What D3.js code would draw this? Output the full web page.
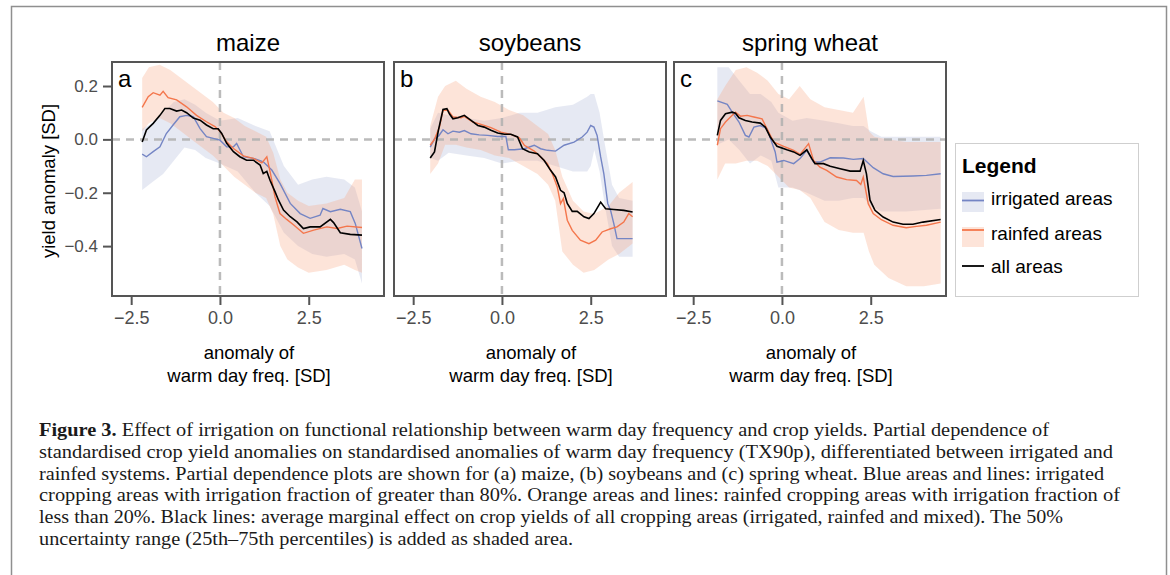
<html>
  <head>
    <meta charset="utf-8"/>
    <style>
      body { margin: 0; background: white; }
      text { font-family: "Liberation Sans", Arial, sans-serif; }
      .caption { font-family: "Liberation Serif", "Times New Roman", serif; font-size: 18px; fill: #1a1a1a; }
    </style>
    <script src="https://d3js.org/d3.v7.min.js"></script>
  </head>
  <body>
    <script>
    // ---- data ----
    var crops = ["maize", "soybeans", "spring wheat"];
    var panelLetters = ["a", "b", "c"];
    var xTicks = [-2.5, 0, 2.5];
    var yTicks = [-0.4, -0.2, 0, 0.2];

    // maize: [x, y]
    var maizeAll = [[-2.19,-0.01],[-2.07,0.035],[-1.88,0.06],[-1.69,0.09],[-1.55,0.116],[-1.41,0.116],[-1.22,0.106],[-1.08,0.11],[-0.94,0.1],[-0.75,0.08],[-0.56,0.072],[-0.38,0.054],[-0.19,0.04],[-0.05,0.04],[0.05,0.022],[0.19,-0.015],[0.38,-0.046],[0.56,-0.065],[0.75,-0.078],[0.94,-0.078],[1.13,-0.096],[1.22,-0.128],[1.32,-0.12],[1.41,-0.153],[1.55,-0.196],[1.65,-0.228],[1.79,-0.265],[1.98,-0.29],[2.17,-0.309],[2.35,-0.334],[2.54,-0.328],[2.82,-0.328],[3.11,-0.3],[3.2,-0.312],[3.39,-0.35],[3.67,-0.356],[4.0,-0.359]];
    var maizeRain = [[-2.19,0.12],[-2.02,0.16],[-1.88,0.175],[-1.69,0.166],[-1.6,0.18],[-1.46,0.156],[-1.22,0.148],[-0.94,0.122],[-0.66,0.09],[-0.38,0.066],[-0.14,0.048],[0,0.03],[0.19,-0.009],[0.38,-0.034],[0.66,-0.062],[0.94,-0.071],[1.18,-0.088],[1.32,-0.065],[1.41,-0.12],[1.55,-0.215],[1.69,-0.278],[1.88,-0.3],[2.07,-0.32],[2.35,-0.352],[2.64,-0.34],[3.01,-0.328],[3.3,-0.334],[3.58,-0.325],[4.0,-0.33]];
    var maizeIrr = [[-2.19,-0.055],[-2.07,-0.065],[-1.88,-0.046],[-1.69,-0.028],[-1.51,0.022],[-1.32,0.054],[-1.13,0.085],[-0.94,0.09],[-0.75,0.085],[-0.56,0.04],[-0.38,0.01],[-0.19,0.004],[0,-0.003],[0.19,-0.028],[0.38,-0.028],[0.47,-0.015],[0.66,-0.065],[0.94,-0.071],[1.22,-0.084],[1.46,-0.115],[1.69,-0.165],[1.98,-0.24],[2.26,-0.278],[2.54,-0.296],[2.82,-0.284],[2.9,-0.259],[3.11,-0.271],[3.39,-0.262],[3.67,-0.271],[3.81,-0.315],[4.0,-0.409]];
    // bands: [x, lower, upper]
    var maizeRainBand = [[-2.19,0.03,0.23],[-2.0,0.06,0.27],[-1.7,0.08,0.28],[-1.4,0.06,0.26],[-1.1,0.03,0.23],[-0.8,0.0,0.2],[-0.5,-0.03,0.17],[-0.2,-0.06,0.14],[0.1,-0.1,0.1],[0.4,-0.14,0.08],[0.7,-0.17,0.05],[1.0,-0.2,0.03],[1.3,-0.22,0.01],[1.5,-0.28,-0.05],[1.7,-0.4,-0.15],[1.9,-0.45,-0.2],[2.2,-0.48,-0.23],[2.5,-0.5,-0.25],[3.0,-0.49,-0.24],[3.5,-0.47,-0.22],[3.8,-0.49,-0.15],[4.0,-0.5,-0.15]];
    var maizeIrrBand = [[-2.19,-0.19,0.04],[-1.9,-0.16,0.06],[-1.6,-0.13,0.1],[-1.3,-0.08,0.14],[-1.0,-0.03,0.15],[-0.7,-0.04,0.13],[-0.4,-0.07,0.1],[0.0,-0.09,0.07],[0.5,-0.12,0.08],[1.0,-0.2,0.05],[1.4,-0.25,0.03],[1.8,-0.35,-0.1],[2.2,-0.4,-0.17],[2.6,-0.43,-0.15],[3.0,-0.44,-0.14],[3.5,-0.43,-0.15],[3.8,-0.45,-0.18],[4.0,-0.54,-0.27]];

    // soybeans
    var soyAll = [[-2.02,-0.07],[-1.9,-0.047],[-1.79,0.034],[-1.66,0.112],[-1.55,0.115],[-1.48,0.096],[-1.38,0.077],[-1.24,0.081],[-1.06,0.09],[-0.87,0.071],[-0.68,0.052],[-0.5,0.046],[-0.31,0.034],[-0.12,0.024],[0.07,0.019],[0.25,0.019],[0.44,0.009],[0.58,-0.035],[0.77,-0.047],[1.0,-0.054],[1.19,-0.079],[1.37,-0.116],[1.51,-0.141],[1.65,-0.191],[1.75,-0.2],[1.84,-0.24],[1.98,-0.27],[2.12,-0.27],[2.31,-0.29],[2.45,-0.297],[2.59,-0.278],[2.78,-0.235],[2.92,-0.26],[3.15,-0.263],[3.43,-0.266],[3.68,-0.272]];
    var soyRain = [[-2.02,-0.022],[-1.9,0.0],[-1.76,0.046],[-1.66,0.109],[-1.52,0.109],[-1.38,0.084],[-1.15,0.081],[-1.06,0.086],[-0.82,0.065],[-0.59,0.056],[-0.31,0.044],[-0.03,0.027],[0.25,0.019],[0.49,0.006],[0.63,-0.022],[0.91,-0.044],[1.09,-0.066],[1.28,-0.091],[1.42,-0.129],[1.56,-0.179],[1.65,-0.241],[1.73,-0.222],[1.84,-0.303],[1.98,-0.341],[2.21,-0.378],[2.45,-0.391],[2.64,-0.378],[2.82,-0.347],[3.06,-0.335],[3.24,-0.328],[3.43,-0.31],[3.57,-0.278],[3.68,-0.29]];
    var soyIrr = [[-2.02,-0.029],[-1.9,0.002],[-1.79,0.011],[-1.66,0.036],[-1.52,0.021],[-1.38,0.031],[-1.2,0.027],[-1.06,0.033],[-0.87,0.021],[-0.64,0.017],[-0.4,0.015],[-0.12,0.011],[0.11,0.011],[0.18,-0.039],[0.35,-0.039],[0.63,-0.035],[0.91,-0.022],[1.09,-0.035],[1.28,-0.041],[1.51,-0.044],[1.75,-0.022],[2.03,-0.01],[2.26,0.009],[2.4,0.027],[2.5,0.052],[2.59,0.046],[2.68,0.015],[2.78,-0.066],[2.87,-0.129],[2.98,-0.241],[3.06,-0.266],[3.15,-0.316],[3.24,-0.372],[3.68,-0.372]];
    var soyRainBand = [[-2.02,-0.13,0.05],[-1.8,-0.09,0.16],[-1.6,-0.02,0.2],[-1.3,-0.02,0.22],[-1.0,-0.03,0.19],[-0.6,-0.04,0.16],[-0.2,-0.06,0.14],[0.2,-0.07,0.11],[0.6,-0.1,0.09],[1.0,-0.13,0.05],[1.3,-0.17,0.02],[1.5,-0.23,-0.04],[1.7,-0.42,-0.14],[2.0,-0.47,-0.23],[2.3,-0.5,-0.27],[2.6,-0.49,-0.28],[3.0,-0.45,-0.25],[3.3,-0.43,-0.2],[3.68,-0.39,-0.16]];
    var soyIrrBand = [[-2.02,-0.07,0.04],[-1.8,-0.08,0.1],[-1.5,-0.05,0.09],[-1.0,-0.06,0.08],[-0.5,-0.07,0.07],[0.0,-0.09,0.08],[0.5,-0.08,0.1],[1.0,-0.08,0.1],[1.5,-0.1,0.12],[2.0,-0.12,0.13],[2.4,-0.12,0.16],[2.5,-0.1,0.17],[2.6,-0.04,0.17],[2.75,-0.12,0.1],[2.9,-0.25,-0.02],[3.1,-0.4,-0.17],[3.3,-0.44,-0.22],[3.68,-0.44,-0.23]];

    // spring wheat
    var wheatAll = [[-1.82,0.015],[-1.73,0.071],[-1.59,0.096],[-1.4,0.102],[-1.31,0.098],[-1.21,0.081],[-1.03,0.071],[-0.84,0.065],[-0.61,0.061],[-0.47,0.046],[-0.33,0.009],[-0.14,-0.026],[0.14,-0.039],[0.33,-0.047],[0.51,-0.06],[0.7,-0.039],[0.84,-0.072],[0.93,-0.091],[1.17,-0.091],[1.36,-0.101],[1.64,-0.11],[1.92,-0.119],[2.2,-0.119],[2.29,-0.079],[2.38,-0.129],[2.48,-0.228],[2.62,-0.266],[2.85,-0.291],[3.13,-0.31],[3.41,-0.318],[3.69,-0.318],[3.97,-0.31],[4.47,-0.3]];
    var wheatRain = [[-1.82,-0.022],[-1.73,0.04],[-1.59,0.065],[-1.45,0.084],[-1.31,0.102],[-1.17,0.087],[-0.98,0.09],[-0.79,0.084],[-0.56,0.077],[-0.42,0.04],[-0.23,-0.01],[0.05,-0.026],[0.33,-0.041],[0.51,-0.056],[0.75,-0.016],[0.89,-0.079],[1.07,-0.104],[1.26,-0.116],[1.54,-0.141],[1.82,-0.151],[2.1,-0.154],[2.22,-0.169],[2.29,-0.141],[2.43,-0.241],[2.57,-0.278],[2.8,-0.301],[3.13,-0.322],[3.5,-0.331],[3.79,-0.326],[4.07,-0.322],[4.47,-0.31]];
    var wheatIrr = [[-1.82,0.144],[-1.54,0.131],[-1.4,0.102],[-1.21,0.065],[-1.03,0.015],[-0.93,0.009],[-0.79,0.046],[-0.61,0.052],[-0.42,0.04],[-0.19,-0.047],[-0.14,-0.085],[0.05,-0.079],[0.33,-0.091],[0.51,-0.072],[0.7,-0.041],[0.89,-0.085],[1.07,-0.085],[1.36,-0.069],[1.73,-0.07],[2.01,-0.075],[2.29,-0.072],[2.57,-0.106],[2.85,-0.129],[3.13,-0.139],[3.69,-0.137],[4.07,-0.135],[4.47,-0.129]];
    var wheatRainBand = [[-1.82,-0.15,0.15],[-1.6,-0.09,0.2],[-1.3,-0.09,0.26],[-1.0,-0.08,0.27],[-0.7,-0.08,0.25],[-0.4,-0.1,0.22],[-0.1,-0.14,0.17],[0.2,-0.18,0.15],[0.5,-0.19,0.2],[0.8,-0.22,0.15],[1.2,-0.31,0.12],[1.6,-0.34,0.11],[2.0,-0.35,0.1],[2.3,-0.35,0.16],[2.45,-0.42,0.03],[2.6,-0.47,0.01],[3.0,-0.52,0.0],[3.5,-0.55,-0.01],[4.0,-0.55,-0.01],[4.47,-0.54,-0.01]];
    var wheatIrrBand = [[-1.82,-0.02,0.27],[-1.5,0.0,0.27],[-1.2,-0.04,0.22],[-0.9,-0.09,0.17],[-0.6,-0.06,0.17],[-0.3,-0.08,0.14],[-0.1,-0.18,0.1],[0.3,-0.18,0.07],[0.7,-0.2,0.08],[1.2,-0.23,0.07],[1.6,-0.23,0.06],[2.0,-0.22,0.05],[2.3,-0.22,0.05],[2.5,-0.25,0.03],[2.8,-0.27,0.01],[3.5,-0.27,0.01],[4.47,-0.26,0.01]];

    var panels = [
      {all: maizeAll, rain: maizeRain, irr: maizeIrr, rainBand: maizeRainBand, irrBand: maizeIrrBand},
      {all: soyAll, rain: soyRain, irr: soyIrr, rainBand: soyRainBand, irrBand: soyIrrBand},
      {all: wheatAll, rain: wheatRain, irr: wheatIrr, rainBand: wheatRainBand, irrBand: wheatIrrBand}
    ];

    var legendItems = ["irrigated areas", "rainfed areas", "all areas"];

    var captionLines = [
      "Effect of irrigation on functional relationship between warm day frequency and crop yields. Partial dependence of",
      "standardised crop yield anomalies on standardised anomalies of warm day frequency (TX90p), differentiated between irrigated and",
      "rainfed systems. Partial dependence plots are shown for (a) maize, (b) soybeans and (c) spring wheat. Blue areas and lines: irrigated",
      "cropping areas with irrigation fraction of greater than 80%. Orange areas and lines: rainfed cropping areas with irrigation fraction of",
      "less than 20%. Black lines: average marginal effect on crop yields of all cropping areas (irrigated, rainfed and mixed). The 50%",
      "uncertainty range (25th\u201375th percentiles) is added as shaded area."
    ];
    var captionEnds = [1049, 1113, 1104, 1120, 1063, 573];

    // ---- layout ----
    var W = 1170, H = 575;
    var panelX = [112, 394, 674], panelY = 62, pw = 272, ph = 234;
    var blueLine = "#7485c4", orangeLine = "#f4764c";
    var blueFill = "rgb(172,182,215)", orangeFill = "rgb(248,165,128)";

    var svg = d3.select("body").append("svg").attr("width", W).attr("height", H);

    svg.append("rect").attr("x", 11.5).attr("y", 6.5).attr("width", 1155).attr("height", 620)
      .attr("fill", "none").attr("stroke", "#8f8f8f").attr("stroke-width", 1.5);

    var x = d3.scaleLinear().domain([-3.04, 4.62]).range([0, pw]);
    var y = d3.scaleLinear().domain([-0.587, 0.29]).range([ph, 0]);

    var line = d3.line().x(d => x(d[0])).y(d => y(d[1]));
    var area = d3.area().x(d => x(d[0])).y0(d => y(d[1])).y1(d => y(d[2]));

    svg.append("defs").append("clipPath").attr("id", "clip")
      .append("rect").attr("width", pw).attr("height", ph);

    panels.forEach(function(p, i) {
      var g = svg.append("g").attr("transform", "translate(" + panelX[i] + "," + panelY + ")");
      var inner = g.append("g").attr("clip-path", "url(#clip)");

      inner.append("path").attr("d", area(p.irrBand)).attr("fill", blueFill).attr("fill-opacity", 0.3);
      inner.append("path").attr("d", area(p.rainBand)).attr("fill", orangeFill).attr("fill-opacity", 0.3);

      inner.append("line").attr("x1", x(0)).attr("x2", x(0)).attr("y1", 0).attr("y2", ph)
        .attr("stroke", "#b0b0b0").attr("stroke-width", 2.5).attr("stroke-dasharray", "8,6").attr("opacity", 0.85);
      inner.append("line").attr("x1", 0).attr("x2", pw).attr("y1", y(0)).attr("y2", y(0))
        .attr("stroke", "#b0b0b0").attr("stroke-width", 2.5).attr("stroke-dasharray", "8,6").attr("opacity", 0.85);

      inner.append("path").attr("d", line(p.irr)).attr("fill", "none").attr("stroke", blueLine).attr("stroke-width", 1.4);
      inner.append("path").attr("d", line(p.rain)).attr("fill", "none").attr("stroke", orangeLine).attr("stroke-width", 1.4);
      inner.append("path").attr("d", line(p.all)).attr("fill", "none").attr("stroke", "#000").attr("stroke-width", 1.6);

      g.append("rect").attr("width", pw).attr("height", ph).attr("fill", "none")
        .attr("stroke", "#555").attr("stroke-width", 2);

      var xa = g.append("g").attr("transform", "translate(0," + ph + ")")
        .call(d3.axisBottom(x).tickValues(xTicks).tickSize(9).tickPadding(6).tickFormat(d3.format(".1f")));
      xa.select(".domain").remove();
      xa.selectAll("line").attr("stroke", "#555").attr("stroke-width", 2);
      xa.selectAll("text").attr("font-size", 18).attr("fill", "#4d4d4d").attr("font-family", "Liberation Sans, Arial, sans-serif");

      g.append("text").attr("x", pw / 2).attr("y", -11).attr("text-anchor", "middle")
        .attr("font-size", 24).text(crops[i]);
      g.append("text").attr("x", 6).attr("y", 25).attr("font-size", 24).text(panelLetters[i]);

      var lab = g.append("text").attr("text-anchor", "middle").attr("font-size", 18.5);
      lab.append("tspan").attr("x", pw / 2 + 1).attr("y", 297).text("anomaly of");
      lab.append("tspan").attr("x", pw / 2 + 1).attr("y", 320).text("warm day freq. [SD]");

      if (i === 0) {
        var ya = g.append("g").call(d3.axisLeft(y).tickValues(yTicks).tickSize(9).tickPadding(5).tickFormat(d3.format(".1f")));
        ya.select(".domain").remove();
        ya.selectAll("line").attr("stroke", "#555").attr("stroke-width", 2);
        ya.selectAll("text").attr("font-size", 17).attr("fill", "#4d4d4d").attr("font-family", "Liberation Sans, Arial, sans-serif");
        g.append("text").attr("transform", "translate(-57," + (ph / 2 + 2) + ") rotate(-90)")
          .attr("text-anchor", "middle").attr("font-size", 18.5).text("yield anomaly [SD]");
      }
    });

    // legend
    var lg = svg.append("g").attr("transform", "translate(955,143)");
    lg.append("rect").attr("x", 0.5).attr("y", 0.5).attr("width", 183).attr("height", 153)
      .attr("fill", "white").attr("stroke", "#cfcfcf").attr("stroke-width", 1);
    lg.append("text").attr("x", 7).attr("y", 30).attr("font-size", 21).attr("font-weight", "bold").text("Legend");
    var swatches = [
      {fill: blueFill, stroke: blueLine, top: 49, ly: 57.5},
      {fill: orangeFill, stroke: orangeLine, top: 84, ly: 87},
      {fill: null, stroke: "#000", top: 0, ly: 123}
    ];
    legendItems.forEach(function(t, i) {
      var s = swatches[i];
      if (s.fill) lg.append("rect").attr("x", 7).attr("y", s.top).attr("width", 22).attr("height", 20)
        .attr("fill", s.fill).attr("fill-opacity", 0.3);
      lg.append("line").attr("x1", 7).attr("x2", 29).attr("y1", s.ly).attr("y2", s.ly)
        .attr("stroke", s.stroke).attr("stroke-width", 1.8);
      lg.append("text").attr("x", 36).attr("y", [62, 97, 130][i]).attr("font-size", 19).text(t);
    });

    // caption
    var cx = 39, cy0 = 436, dy = 21.8;
    captionLines.forEach(function(t, i) {
      var tx = svg.append("text").attr("class", "caption").attr("x", cx).attr("y", cy0 + i * dy)
        .attr("textLength", captionEnds[i] - cx).attr("lengthAdjust", "spacingAndGlyphs");
      if (i === 0) {
        tx.append("tspan").attr("font-weight", "bold").text("Figure 3. ");
      }
      tx.append("tspan").text(t);
    });
    </script>
  </body>
</html>
